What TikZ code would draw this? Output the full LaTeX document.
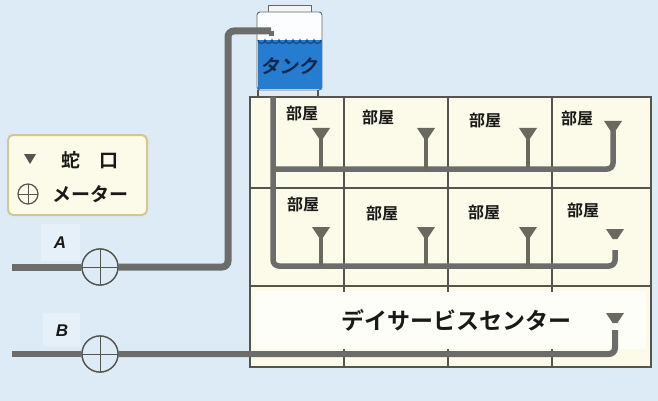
\documentclass[tikz,border=0pt]{standalone}
\usepackage{fontspec}
\usetikzlibrary{calc}
\setmainfont{Liberation Sans}
\newfontfamily\jp{Noto Sans CJK JP}[BoldFont={Noto Sans CJK JP Bold}]
\newfontfamily\jpit{Noto Sans CJK JP Bold}[FakeSlant=0.2]
\definecolor{bg}{RGB}{221,235,247}
\definecolor{cream}{RGB}{252,250,232}
\definecolor{paleroom}{RGB}{254,254,248}
\definecolor{wallc}{RGB}{85,85,80}
\definecolor{pipec}{RGB}{108,108,106}
\definecolor{tapc}{RGB}{105,105,95}
\definecolor{water}{RGB}{38,124,206}
\definecolor{waterdk}{RGB}{20,70,140}
\definecolor{legendedge}{RGB}{214,198,140}
\definecolor{ink}{RGB}{25,25,25}
\tikzset{
  wall/.style={draw=wallc, line width=1.1pt},
  mainpipe/.style={draw=pipec, line width=7pt, rounded corners=6pt},
  bpipe/.style={draw=pipec, line width=5.5pt, rounded corners=6pt},
  stem/.style={draw=tapc, line width=4.5pt},
  room/.style={font=\jp\bfseries\fontsize{16}{16}\selectfont, text=ink, inner sep=0pt},
  meter/.style={circle, draw=wallc, line width=1.3pt, fill=bg, minimum size=36pt, inner sep=0pt,
    path picture={\draw[wallc, line width=1pt]
      (path picture bounding box.north) -- (path picture bounding box.south)
      (path picture bounding box.west) -- (path picture bounding box.east);}},
  tag/.style={font=\bfseries\itshape\fontsize{17}{17}\selectfont, text=ink, inner sep=0pt},
  tap/.pic={\fill[tapc] (-9,0) -- (9,0) -- (2.4,10) -- (-2.4,10) -- cycle;}
}
\begin{document}
\begin{tikzpicture}[x=1pt,y=-1pt]
\useasboundingbox (0,0) rectangle (658,401);
\fill[bg] (0,0) rectangle (658,401);

% building
\fill[cream] (250,97) rectangle (651,367);
\fill[paleroom] (255,291) rectangle (646,349);
\draw[wall] (250,97) rectangle (651,367);
\draw[wall] (250,188) -- (651,188);
\draw[wall] (250,286) -- (651,286);
\foreach \x in {344,448,552} {
  \draw[wall] (\x,97) -- (\x,292);
  \draw[wall] (\x,349) -- (\x,367);
}

% water tank
\coordinate (tankL) at (258,90);
\coordinate (tankR) at (318,90);
\draw[wallc, line width=1.5pt] (tankL) -- (258,97) (tankR) -- (318,97);
\draw[draw=gray!80!black, fill=gray!8, line width=0.8pt] (268,12) rectangle (311,5);
\draw[draw=gray!80!black, fill=white!92!bg, line width=0.9pt, rounded corners=3pt]
  (257,90) -- (257,12) -- (322,12) -- (322,90) -- cycle;
\fill[water] (257.5,40) -- (322,40) -- (322,89.5) -- (257.5,89.5) -- cycle;
\draw[waterdk, line width=1.2pt] (258,40)
  \foreach \i in {0,...,8} { arc[start angle=180, end angle=0, radius=3.5] };
\node[font=\jpit\fontsize{19}{19}\selectfont, text=waterdk!55!black, inner sep=0pt] (tanklabel) at (289,66) {タンク};

% supply line A up to the tank
\node[meter] (mA) at (100,267) {};
\node[meter] (mB) at (100,354) {};
\coordinate (aStart) at (12,267);
\coordinate (aIn) at (271,31);
\draw[mainpipe] (aStart) -- (mA.west);
\draw[mainpipe] (mA.east) -- (228,267) -- (228,31) -- (aIn);
\draw[pipec, line width=5pt] (aIn) -- ++(0,5);

% riser and floor branches
\coordinate (riserTop) at (273,97);
\coordinate (t11) at (321,128);
\coordinate (t12) at (426,128);
\coordinate (t13) at (528,128);
\coordinate (t14) at (613,121);
\coordinate (t21) at (321,227);
\coordinate (t22) at (426,227);
\coordinate (t23) at (528,227);
\coordinate (t24) at (615,229);
\coordinate (t31) at (615,313);

\foreach \t in {t11,t12,t13,t14,t21,t22,t23,t24,t31} { \pic at (\t) {tap}; }

\draw[bpipe] (riserTop) -- (273,266) -- (615,266) -- ($(t24)+(0,21)$);
\draw[bpipe] (273,169) -- (613,169) -- ($(t14)+(0,10)$);
\foreach \t in {t11,t12,t13} { \draw[stem] ($(\t)+(0,9)$) -- ($(\t)+(0,41)$); }
\foreach \t in {t21,t22,t23} { \draw[stem] ($(\t)+(0,9)$) -- ($(\t)+(0,39)$); }

% supply line B to the day-service centre
\draw[mainpipe, line width=6pt] (12,354) -- (mB.west);
\draw[mainpipe, line width=6pt] (mB.east) -- (615,354) -- ($(t31)+(0,17)$);
\node[meter] at (mB) {};
\node[meter] at (mA) {};

% labels
\fill[white, opacity=0.25] (41,224) rectangle (80,261);
\fill[white, opacity=0.25] (43,313) rectangle (80,346);
\node[tag] (labA) at (60,243) {A};
\node[tag] (labB) at (62,331) {B};

\node[room] (r11) at (302,113) {部屋};
\node[room] (r12) at (378,117) {部屋};
\node[room] (r13) at (485,120) {部屋};
\node[room] (r14) at (577,118) {部屋};
\node[room] (r21) at (303,204) {部屋};
\node[room] (r22) at (382,213) {部屋};
\node[room] (r23) at (484,212) {部屋};
\node[room] (r24) at (583,210) {部屋};
\node[font=\jp\bfseries\fontsize{23}{23}\selectfont, text=ink, inner sep=0pt] (day) at (456,320) {デイサービスセンター};

% legend
\draw[draw=legendedge, fill=cream, line width=2pt, rounded corners=5pt] (8,135) rectangle (147,215);
\fill[wallc] (24,154) -- (36,154) -- (30,164) -- cycle;
\node[font=\jp\bfseries\fontsize{19}{19}\selectfont, text=ink, inner sep=0pt, anchor=west] (lgTap) at (61,160) {蛇　口};
\node[circle, draw=wallc, line width=1.2pt, minimum size=20pt, inner sep=0pt,
  path picture={\draw[wallc, line width=0.9pt]
    (path picture bounding box.north) -- (path picture bounding box.south)
    (path picture bounding box.west) -- (path picture bounding box.east);}] (lgMeter) at (28,194) {};
\node[font=\jp\bfseries\fontsize{19}{19}\selectfont, text=ink, inner sep=0pt, anchor=west] (lgMeterTxt) at (52,194) {メーター};
\end{tikzpicture}
\end{document}
